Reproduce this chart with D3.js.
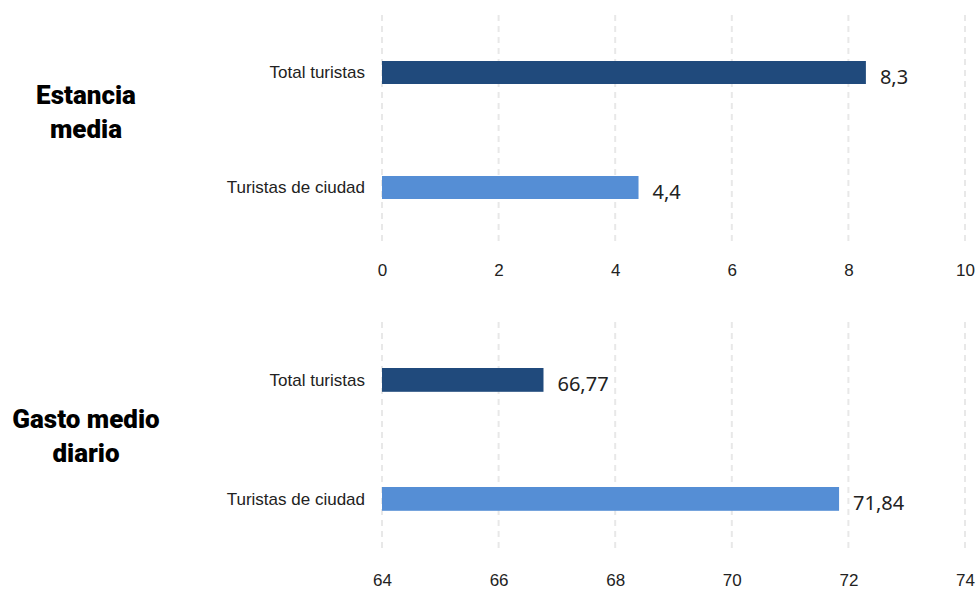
<!DOCTYPE html>
<html>
<head>
<meta charset="utf-8">
<script src="https://cdnjs.cloudflare.com/ajax/libs/d3/7.8.5/d3.min.js"></script>
<style>
  body { margin: 0; background: #fff; }
  svg { display: block; }
</style>
</head>
<body>
<script>
// data
var categories = ["Total turistas", "Turistas de ciudad"];
var estanciaValues = [8.3, 4.4];
var gastoValues = [66.77, 71.84];
var estanciaTicks = [0, 2, 4, 6, 8, 10];
var gastoTicks = [64, 66, 68, 70, 72, 74];
var panelTitles = [["Estancia", "media"], ["Gasto medio", "diario"]];
var barColors = ["#204a7c", "#558ed5"];

var W = 979, H = 590;
var svg = d3.select("body").append("svg")
  .attr("width", W)
  .attr("height", H);

var narrow = "'Liberation Sans Narrow', 'Arial Narrow', sans-serif";

// one panel = one horizontal bar group with its own x scale
var drawPanel = function(cfg){
  var x = d3.scaleLinear().domain(cfg.domain).range([382, 965]);
  var y = d3.scaleBand().domain(categories).range([cfg.top, cfg.bottom]).paddingInner(0.8).paddingOuter(0.4);

  var g = svg.append("g");

  // dashed grid
  g.selectAll("line.grid")
    .data(cfg.ticks)
    .enter().append("line")
    .attr("class", "grid")
    .attr("x1", function(d){ return x(d); })
    .attr("x2", function(d){ return x(d); })
    .attr("y1", cfg.gridTop)
    .attr("y2", cfg.gridBottom)
    .attr("stroke", "#e8e8e8")
    .attr("stroke-width", 2)
    .attr("stroke-dasharray", "6,5");

  // x axis labels
  var axis = d3.axisBottom(x).tickValues(cfg.ticks).tickSize(0).tickPadding(0).tickFormat(d3.format("d"));
  var ax = g.append("g")
    .attr("transform", "translate(0," + cfg.axisY + ")")
    .call(axis);
  ax.select(".domain").remove();
  ax.selectAll("text")
    .attr("font-family", narrow)
    .attr("font-size", 17)
    .attr("fill", "#222")
    .attr("dy", "0.35em");

  var values = cfg.values;

  g.selectAll("rect.bar")
    .data(categories)
    .enter().append("rect")
    .attr("class", "bar")
    .attr("x", x(cfg.domain[0]))
    .attr("y", function(d){ return y(d); })
    .attr("width", function(d, i){ return x(values[i]) - x(cfg.domain[0]); })
    .attr("height", y.bandwidth())
    .attr("fill", function(d, i){ return barColors[i]; });

  // category labels
  g.selectAll("text.cat")
    .data(categories)
    .enter().append("text")
    .attr("class", "cat")
    .attr("x", 365)
    .attr("y", function(d){ return y(d) + y.bandwidth() / 2; })
    .attr("dy", "0.35em")
    .attr("text-anchor", "end")
    .attr("font-family", narrow)
    .attr("font-size", 17)
    .attr("fill", "#222")
    .text(function(d){ return d; });

  // value labels
  g.selectAll("text.val")
    .data(categories)
    .enter().append("text")
    .attr("class", "val")
    .attr("x", function(d, i){ return x(values[i]) + 14; })
    .attr("y", function(d){ return y(d) + y.bandwidth() / 2 + 4; })
    .attr("dy", "0.35em")
    .attr("font-family", "'Noto Sans', sans-serif")
    .attr("font-size", 20)
    .attr("fill", "#222")
    .text(function(d, i){ return String(values[i]).replace(".", ","); });

  // panel title
  var t = g.append("text")
    .attr("x", 86)
    .attr("y", cfg.titleY)
    .attr("text-anchor", "middle")
    .attr("font-family", "Roboto, sans-serif")
    .attr("font-weight", 900)
    .attr("font-size", 26)
    .attr("fill", "#000");
  cfg.title.forEach(function(line, i){
    t.append("tspan")
      .attr("x", 86)
      .attr("dy", i == 0 ? 0 : 34)
      .text(line);
  });
};

drawPanel({
  domain: [0, 10], ticks: estanciaTicks, values: estanciaValues,
  top: 15, bottom: 245, gridTop: 15, gridBottom: 243, axisY: 270,
  title: panelTitles[0], titleY: 104
});

drawPanel({
  domain: [64, 74], ticks: gastoTicks, values: gastoValues,
  top: 320.4, bottom: 558.4, gridTop: 322, gridBottom: 553, axisY: 580,
  title: panelTitles[1], titleY: 428
});
</script>
</body>
</html>
